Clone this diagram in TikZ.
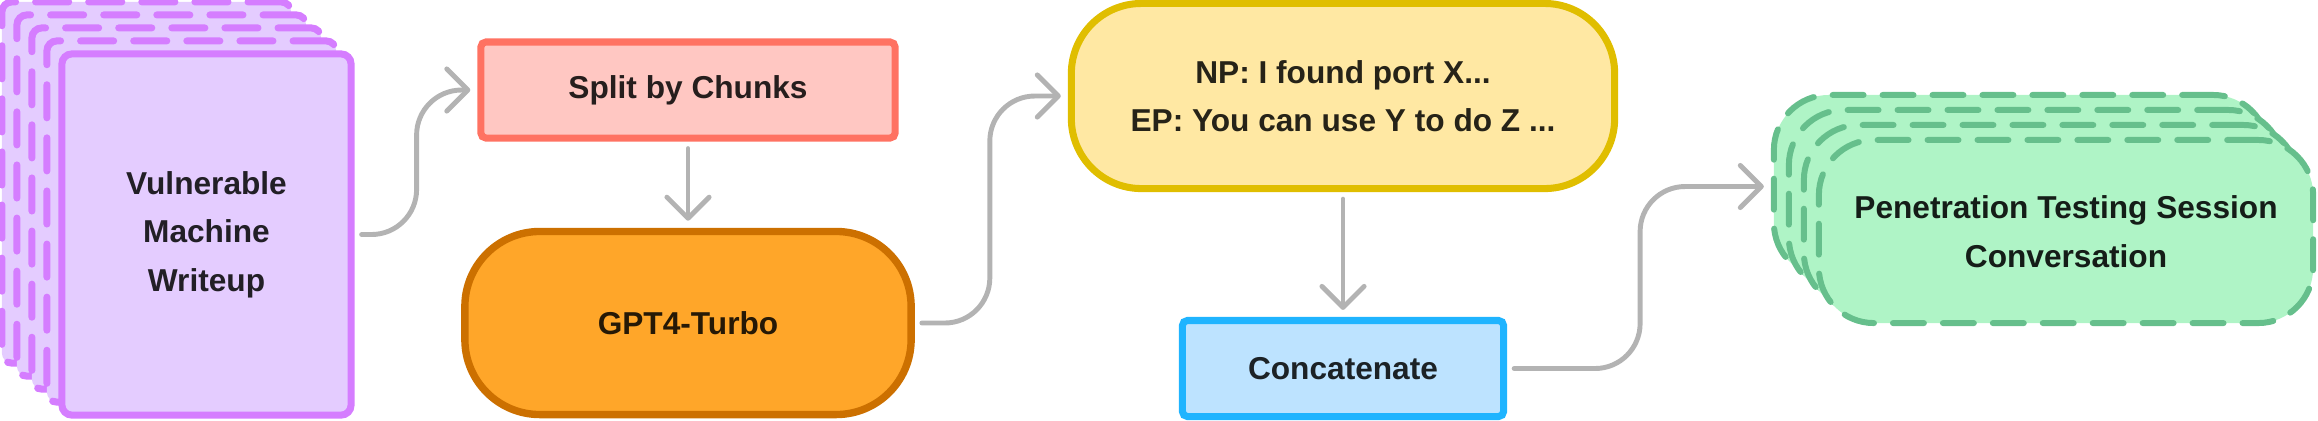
\documentclass[tikz,border=0pt]{standalone}
\usepackage{fontspec}
\setmainfont{Liberation Sans}
\usetikzlibrary{shapes}
\usetikzlibrary{arrows.meta}

\definecolor{writefill}{HTML}{E4CCFF}
\definecolor{writeline}{HTML}{D57DFF}
\definecolor{splitfill}{HTML}{FFC7C2}
\definecolor{splitline}{HTML}{FF7262}
\definecolor{gptfill}{HTML}{FFA629}
\definecolor{gptline}{HTML}{CC7000}
\definecolor{pairfill}{HTML}{FFE8A3}
\definecolor{pairline}{HTML}{E0BE00}
\definecolor{catfill}{HTML}{BDE3FF}
\definecolor{catline}{HTML}{1FB4FF}
\definecolor{convfill}{HTML}{AFF4C6}
\definecolor{convline}{HTML}{66BF8C}
\definecolor{flowgrey}{HTML}{B3B3B3}

\begin{document}
\begin{tikzpicture}[x=0.01cm,y=-0.01cm]
    \tikzstyle{every node}=[rectangle, inner sep=0pt, align=center, line width=2pt, font=\fontsize{9}{13.8}\selectfont\bfseries]
    \tikzstyle{torn}=[dash pattern=on 9.4pt off 5.7pt, line cap=round]
    \tikzstyle{page}=[rounded corners=0.1cm, minimum width=2.89cm, minimum height=3.61cm, fill=writefill, draw=writeline, text=writefill!15!black]
    \tikzstyle{chat}=[rounded corners=0.55cm, minimum width=4.94cm, minimum height=1.83cm, fill=convfill, draw=convline, line width=1.7pt, dash pattern=on 8.8pt off 5.4pt, line cap=round, text=convfill!12!black]
    \tikzstyle{flow}=[draw=flowgrey, line width=1.4pt, line cap=round, rounded corners=0.45cm, shorten <=2pt, shorten >=2pt, -{Straight Barb[length=6pt,width=12pt,round]}]
    \useasboundingbox (0,0) rectangle (2318,420);

    % writeup pages
    \foreach \k in {4,3,2,1}
      \node[page, torn] (write\k) at (206.5-15*\k, 234.5-13*\k) {};
    \node[page] (write) at (206.5, 234.5) {Vulnerable\\Machine\\Writeup};

    \node[rounded corners=0.05cm, minimum width=4.14cm, minimum height=0.96cm, fill=splitfill, draw=splitline, text=splitfill!15!black] (split) at (688, 90) {Split by Chunks};
    \node[rounded corners=0.75cm, minimum width=4.46cm, minimum height=1.83cm, fill=gptfill, draw=gptline, line width=2.1pt, text=gptfill!15!black] (gpt) at (688, 323) {GPT4-Turbo};
    \node[rounded corners=0.7cm, minimum width=5.43cm, minimum height=1.85cm, fill=pairfill, draw=pairline, text=pairfill!15!black] (pairs) at (1343, 96) {NP: I found port X...\\EP: You can use Y to do Z ...};
    \node[rounded corners=0.05cm, minimum width=3.21cm, minimum height=0.96cm, fill=catfill, draw=catline, text=catfill!15!black] (concat) at (1343, 368.5) {Concatenate};

    % conversation stack
    \foreach \k in {3,2,1}
      \node[chat] (session\k) at (2066-15*\k, 231.5-15*\k) {};
    \node[chat] (session) at (2066, 231.5) {Penetration Testing Session\\Conversation};

    \draw[flow] (write.east) -- ++(62,0) |- (split.west);
    \draw[flow] (split.south) -- (gpt.north);
    \draw[flow] (gpt.east) -- ++(75,0) |- (pairs.west);
    \draw[flow] (pairs.south) -- (concat.north);
    \draw[flow] (concat.east) -- ++(133,0) |- (session3.west);
\end{tikzpicture}
\end{document}
